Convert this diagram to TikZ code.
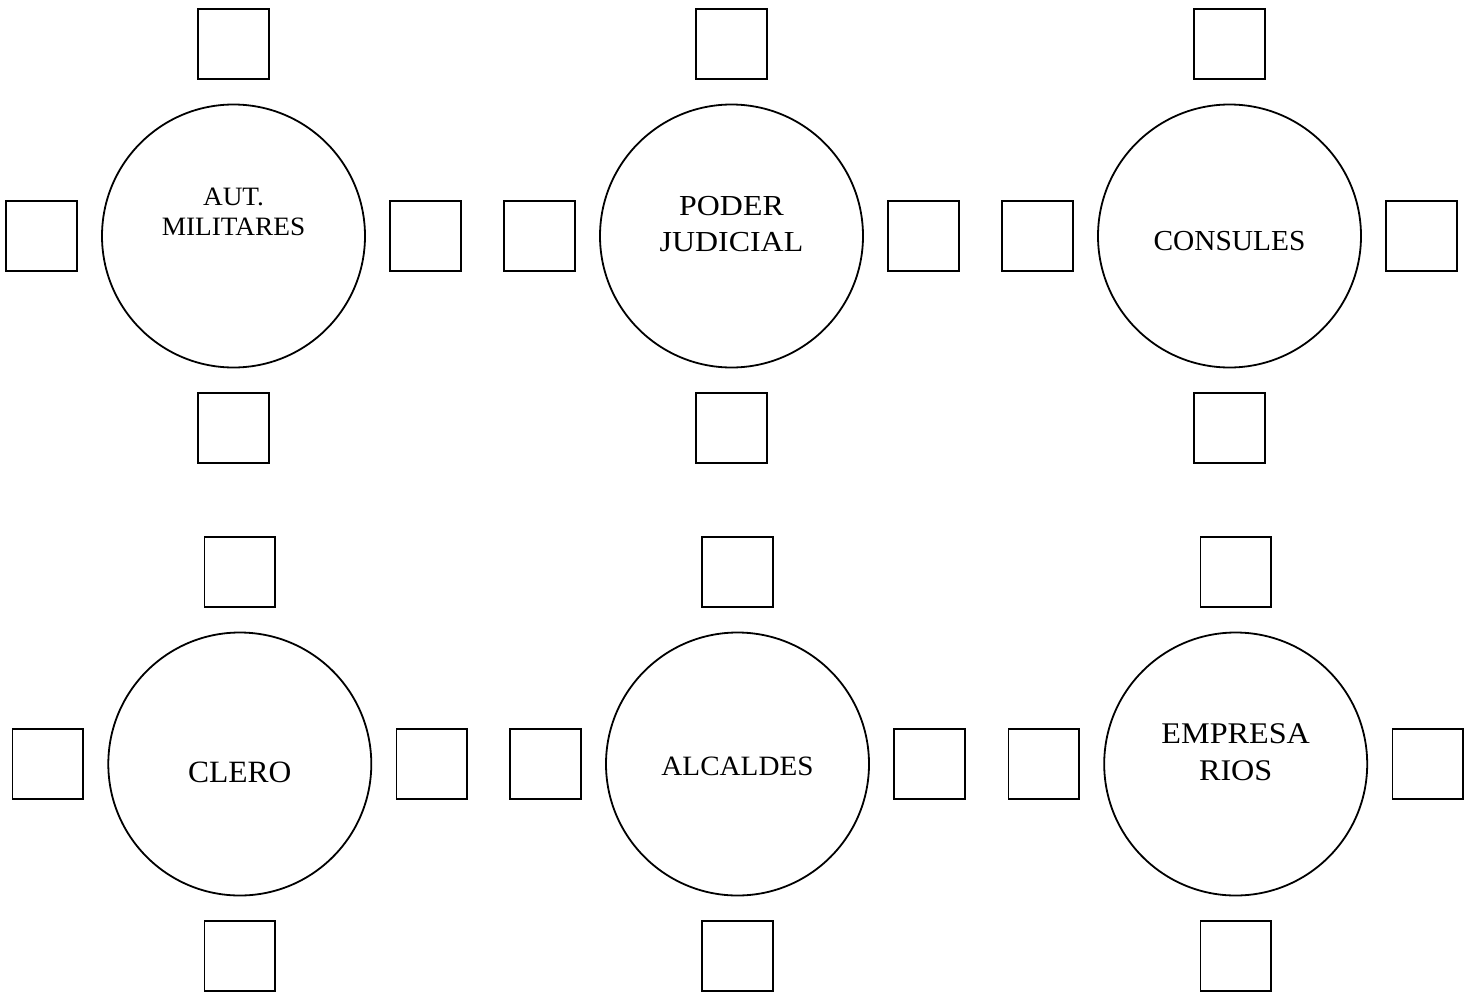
\documentclass[tikz,border=0pt]{standalone}
\usepackage{fontspec}
\setmainfont{Liberation Serif}
\newcommand{\estirar}[2]{\scalebox{#1}[1]{#2}}
\begin{document}
\begin{tikzpicture}[x=1pt,y=-1pt,
  mesa/.style={circle,draw,line width=1.8pt,minimum size=263pt,inner sep=0pt},
  silla/.style={rectangle,draw,line width=1.8pt,minimum size=70.5pt,inner sep=0pt},
  lbl/.style={align=center,inner sep=0pt,text=black}]
\useasboundingbox (0,0) rectangle (1467,993);
\foreach \n/\cx/\cy in {m1/233.5/236, m2/731.5/236, m3/1229.5/236,
                         m4/239.8/764, m5/737.5/764, m6/1235.7/764}{
  \node[mesa] (\n) at (\cx,\cy) {};
  \node[silla] (\n t) at (\cx,\cy-192) {};
  \node[silla] (\n b) at (\cx,\cy+192) {};
  \node[silla] (\n l) at (\cx-192,\cy) {};
  \node[silla] (\n r) at (\cx+192,\cy) {};
}
\node[lbl,font=\fontsize{26.5}{30}\selectfont] (t1) at (233.5,212) {\estirar{1.03}{AUT.}\\\estirar{1.03}{MILITARES}};
\node[lbl,font=\fontsize{29}{36}\selectfont] (t2) at (731.5,224.5) {\estirar{1.1}{PODER}\\\estirar{1.1}{JUDICIAL}};
\node[lbl,font=\fontsize{29}{36}\selectfont] (t3) at (1229.5,241) {\estirar{1.013}{CONSULES}};
\node[lbl,font=\fontsize{31}{37}\selectfont] (t4) at (239.8,772) {\estirar{1.017}{CLERO}};
\node[lbl,font=\fontsize{28}{36}\selectfont] (t5) at (737.5,766.7) {\estirar{1.04}{ALCALDES}};
\node[lbl,font=\fontsize{30}{37}\selectfont] (t6) at (1235.7,752.5) {\estirar{1.073}{EMPRESA}\\\estirar{1.073}{RIOS}};
\end{tikzpicture}
\end{document}
